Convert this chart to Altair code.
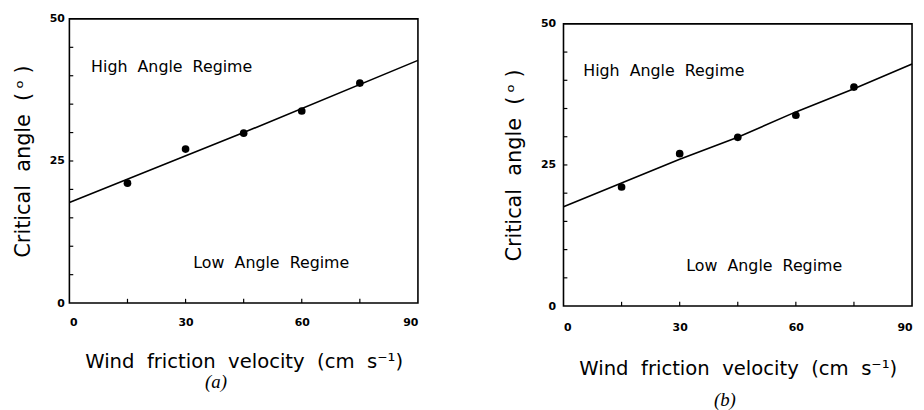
import altair as alt
import pandas as pd

# ---- data ----
x_pts = [15, 30, 45, 60, 75]
ya_pts = [21.1, 27.1, 29.9, 33.8, 38.7]
yb_pts = [21.1, 27.0, 29.9, 33.8, 38.8]

xa_fit = [0, 45, 90]
ya_fit = [17.7, 30.0, 42.7]
xb_fit = [0, 15, 30, 45, 60, 75, 90]
yb_fit = [17.6, 21.8, 26.0, 29.9, 34.4, 38.5, 42.9]

x_minor_ticks = [15, 30, 45, 60, 75]
y_minor_ticks = [5, 10, 15, 20, 25, 30, 35, 40, 45]

GAP = " \u00a0"  # wide word gap as in the original typesetting
regime_text = ["High" + GAP + "Angle" + GAP + "Regime", "Low" + GAP + "Angle" + GAP + "Regime"]
a_text_x = [5.6, 32.0]
a_text_y = [41.5, 7.1]
b_text_x = [5.1, 31.7]
b_text_y = [41.7, 7.1]

captions = ["(a)", "(b)"]

X_TITLE = "Wind" + GAP + "friction" + GAP + "velocity" + GAP + "(cm" + GAP + "s\u207b\u00b9)"
Y_TITLE = "\u00a0" * 4 + "Critical" + GAP + "angle" + GAP + "(\u2009\u1d52\u00a0)"

FONT = "DejaVu Sans"


def panel(pts_y, fit_x, fit_y, tx, ty, W, H, caption, lab_pad_x, lab_pad_y,
          title_pad_x, cap_dx, cap_off):
    xax = alt.Axis(values=[0, 30, 60, 90], ticks=False, domain=False, grid=False,
                   labelPadding=lab_pad_x, title=X_TITLE, titlePadding=title_pad_x,
                   titleFontSize=19.8)
    yax = alt.Axis(values=[0, 25, 50], ticks=False, domain=False, grid=False,
                   labelPadding=lab_pad_y, title=Y_TITLE, titlePadding=16,
                   titleFontSize=21)

    def X(f):
        return alt.X(f, scale=alt.Scale(domain=[0, 90], nice=False, zero=True), axis=xax)

    def Y(f):
        return alt.Y(f, scale=alt.Scale(domain=[0, 50], nice=False, zero=True), axis=yax)

    pts = pd.DataFrame({"x": x_pts, "y": pts_y})
    fit = pd.DataFrame({"x": fit_x, "y": fit_y})
    txt = pd.DataFrame({"x": tx, "y": ty, "t": regime_text})
    xt = pd.DataFrame({"x": x_minor_ticks, "y": [0] * len(x_minor_ticks),
                       "y1": [0.75] * len(x_minor_ticks)})
    yt = pd.DataFrame({"y": y_minor_ticks, "x": [0] * len(y_minor_ticks),
                       "x1": [1.0] * len(y_minor_ticks)})

    line = alt.Chart(fit).mark_line(color="black", strokeWidth=1.6).encode(
        x=X("x:Q"), y=Y("y:Q"))
    dots = alt.Chart(pts).mark_circle(color="black", opacity=1, size=60).encode(
        x=X("x:Q"), y=Y("y:Q"))
    labels = alt.Chart(txt).mark_text(align="left", baseline="middle", font=FONT,
                                      fontSize=16, color="black").encode(
        x=X("x:Q"), y=Y("y:Q"), text="t:N")
    xtick = alt.Chart(xt).mark_rule(color="black", strokeWidth=1.2).encode(
        x=X("x:Q"), y=Y("y:Q"), y2="y1:Q")
    ytick = alt.Chart(yt).mark_rule(color="black", strokeWidth=1.2).encode(
        y=Y("y:Q"), x=X("x:Q"), x2="x1:Q")

    return alt.layer(line, dots, labels, xtick, ytick).properties(
        width=W, height=H,
        title=alt.TitleParams(caption, orient="bottom", anchor="middle",
                              font="Liberation Serif", fontStyle="italic",
                              fontWeight="normal", fontSize=19, color="black",
                              dx=cap_dx, offset=cap_off),
    )


a = panel(ya_pts, xa_fit, ya_fit, a_text_x, a_text_y, 352, 287, captions[0],
          14, 5, 24, -28, 2)
b = panel(yb_pts, xb_fit, yb_fit, b_text_x, b_text_y, 352, 285, captions[1],
          16, 8, 26, -13, 13)

spacer = alt.Chart(pd.DataFrame({"v": [0]})).mark_point(opacity=0).encode(
    x=alt.X("v:Q", axis=None), y=alt.Y("v:Q", axis=None)
).properties(width=352, height=1, view=alt.ViewBackground(stroke=None))

chart = alt.hconcat(
    a, alt.vconcat(spacer, b, spacing=4, bounds="flush"), spacing=147, bounds="flush"
).properties(
    padding={"left": 3, "top": 2, "right": 0, "bottom": 0}
).configure(
    background="white"
).configure_view(
    stroke="black", strokeWidth=1.6
).configure_axis(
    labelFont=FONT, labelFontSize=11, labelFontWeight="bold", labelColor="black",
    titleFont=FONT, titleFontWeight="normal", titleColor="black",
)

chart.save("out.html", embed_options={"renderer": "svg", "actions": False})
